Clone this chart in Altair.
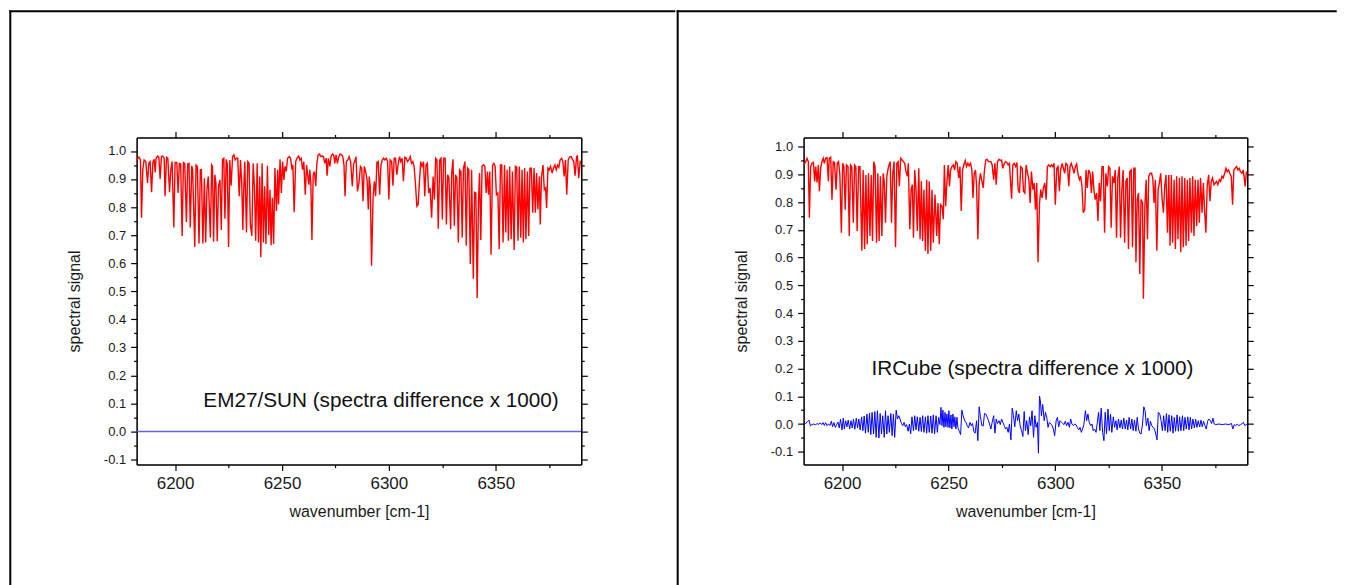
import altair as alt
import pandas as pd

FONT = "Liberation Sans"

# ---------------- EM27/SUN (left panel) ----------------
em_wn = [6181.2, 6182.0, 6183.1, 6183.8, 6184.3, 6184.9, 6185.5, 6186.3, 6187.1, 6187.7, 6188.3, 6189.0, 6189.6, 6190.2,
         6190.7, 6191.1, 6191.8, 6192.4, 6193.0, 6193.6, 6194.2, 6194.9, 6195.3, 6196.0, 6196.6, 6197.4, 6198.0, 6198.6,
         6199.4, 6200.0, 6200.8, 6201.4, 6202.0, 6202.6, 6203.3, 6203.9, 6204.5, 6205.3, 6205.9, 6206.5, 6207.1, 6207.8,
         6208.2, 6209.2, 6209.8, 6210.4, 6211.2, 6211.8, 6212.3, 6213.0, 6213.7, 6214.3, 6214.9, 6215.5, 6216.5, 6217.1,
         6217.5, 6218.0, 6218.6, 6219.1, 6219.7, 6220.3, 6221.0, 6221.6, 6222.2, 6222.8, 6223.3, 6223.9, 6224.4, 6225.0,
         6225.6, 6226.2, 6226.9, 6227.5, 6228.1, 6228.7, 6229.3, 6230.0, 6230.6, 6231.2, 6231.7, 6232.1, 6232.6, 6233.4,
         6234.0, 6234.6, 6235.2, 6235.9, 6236.5, 6237.1, 6237.7, 6238.4, 6239.0, 6239.6, 6240.1, 6240.7, 6241.3, 6241.9,
         6242.5, 6243.2, 6243.8, 6244.4, 6244.9, 6245.5, 6246.1, 6246.7, 6247.4, 6248.0, 6248.4, 6249.1, 6249.7, 6250.3,
         6250.9, 6251.4, 6252.0, 6252.6, 6253.4, 6254.0, 6254.7, 6255.1, 6255.7, 6256.4, 6257.0, 6257.8, 6258.4, 6259.0,
         6259.6, 6260.2, 6260.9, 6261.5, 6262.0, 6262.6, 6263.0, 6263.5, 6264.0, 6264.6, 6265.2, 6265.8, 6266.3, 6266.9,
         6267.5, 6268.2, 6268.8, 6269.4, 6270.0, 6270.7, 6271.1, 6271.7, 6272.4, 6273.0, 6273.6, 6274.2, 6274.7, 6275.3,
         6275.9, 6276.6, 6277.2, 6277.8, 6278.4, 6279.0, 6279.5, 6280.1, 6280.8, 6281.4, 6282.1, 6282.9, 6283.5, 6284.0,
         6284.6, 6285.3, 6286.0,
         6286.7, 6287.3, 6287.9, 6288.5, 6289.1, 6289.8, 6290.4, 6290.8, 6291.3, 6291.9, 6292.6, 6293.2, 6293.8, 6294.4,
         6295.0, 6295.7, 6296.3, 6296.9, 6297.5, 6298.1, 6298.8, 6299.4, 6300.0, 6300.6, 6301.3, 6301.9, 6302.5, 6303.1,
         6303.7, 6304.4, 6305.0, 6305.6, 6306.2, 6306.8, 6307.5, 6308.1, 6308.7, 6309.3, 6310.0, 6310.6, 6311.2, 6311.8,
         6312.4, 6313.1, 6313.7, 6314.3, 6314.9, 6315.5, 6316.2, 6316.8, 6317.4, 6318.0, 6318.6, 6319.3, 6320.0, 6320.7,
         6321.3, 6321.9, 6322.5, 6323.1, 6323.8, 6324.4, 6325.0, 6325.6, 6326.3, 6326.9, 6327.5, 6328.1, 6328.9, 6329.4,
         6330.0, 6330.6, 6331.2, 6331.8, 6332.5, 6333.1, 6333.7, 6334.3, 6334.9, 6335.6, 6336.2, 6336.8, 6337.4, 6338.1,
         6338.7, 6339.5, 6340.1, 6340.7, 6341.3, 6341.9, 6342.4, 6343.0, 6343.6, 6344.3, 6344.9, 6345.5, 6346.1, 6346.6,
         6347.2, 6347.8, 6348.5, 6349.1, 6349.7, 6350.3, 6351.0, 6351.6, 6352.2, 6352.8, 6353.4, 6354.1, 6354.7, 6355.3,
         6355.9, 6356.5, 6357.2, 6357.8, 6358.6, 6359.2, 6359.8, 6360.4, 6361.0, 6361.7, 6362.3, 6362.9, 6363.5, 6364.1,
         6364.8, 6365.4, 6366.0, 6366.6, 6367.3, 6367.9, 6368.5, 6369.1, 6369.7, 6370.4, 6370.8, 6371.4, 6372.1, 6372.7,
         6373.3, 6373.8, 6374.4, 6375.0, 6375.6, 6376.4, 6377.0, 6377.7, 6378.3, 6378.9, 6379.5, 6380.1, 6380.8, 6381.4,
         6382.0, 6382.6, 6383.2, 6383.9, 6384.5, 6385.3, 6385.9, 6386.5, 6387.1, 6387.8, 6388.2, 6388.8, 6389.5, 6390.1]
em_sig = [0.956, 0.968, 0.978, 0.968, 0.762, 0.933, 0.968, 0.962, 0.886, 0.956, 0.962, 0.853, 0.959, 0.970,
          0.923, 0.974, 0.982, 0.978, 0.900, 0.980, 0.982, 0.974, 0.839, 0.978, 0.974, 0.853, 0.933, 0.962,
          0.727, 0.959, 0.959, 0.850, 0.956, 0.954, 0.697, 0.959, 0.956, 0.747, 0.954, 0.956, 0.727, 0.947,
          0.933, 0.658, 0.950, 0.945, 0.670, 0.933, 0.933, 0.670, 0.903, 0.674, 0.862, 0.909, 0.691, 0.950,
          0.945, 0.676, 0.915, 0.886, 0.678, 0.874, 0.897, 0.718, 0.970, 0.974, 0.758, 0.970, 0.956, 0.658,
          0.968, 0.876, 0.980, 0.986, 0.968, 0.974, 0.974, 0.839, 0.968, 0.880, 0.718, 0.862, 0.962, 0.709,
          0.962, 0.956, 0.738, 0.697, 0.956, 0.874, 0.680, 0.956, 0.674, 0.909, 0.621, 0.956, 0.674, 0.874,
          0.668, 0.947, 0.700, 0.862, 0.664, 0.833, 0.668, 0.939, 0.786, 0.933, 0.809, 0.970, 0.850, 0.962,
          0.897, 0.945, 0.927, 0.974, 0.980, 0.974, 0.933, 0.950, 0.782, 0.962, 0.974, 0.982, 0.968, 0.974,
          0.933, 0.962, 0.844, 0.950, 0.915, 0.880, 0.933, 0.886, 0.683, 0.915, 0.927, 0.874, 0.956, 0.986,
          0.989, 0.980, 0.982, 0.980, 0.956, 0.974, 0.912, 0.974, 0.945, 0.982, 0.989, 0.986, 0.956, 0.986,
          0.956, 0.980, 0.989, 0.986, 0.982, 0.950, 0.839, 0.962, 0.968, 0.980, 0.962, 0.874, 0.954, 0.962,
          0.980, 0.856, 0.886,
          0.945, 0.939, 0.821, 0.945, 0.927, 0.897, 0.791, 0.909, 0.874, 0.591, 0.833, 0.892, 0.839, 0.959,
          0.962, 0.844, 0.950, 0.968, 0.974, 0.968, 0.974, 0.962, 0.827, 0.968, 0.962, 0.876, 0.974, 0.974,
          0.915, 0.956, 0.980, 0.962, 0.974, 0.892, 0.978, 0.974, 0.962, 0.968, 0.980, 0.956, 0.962, 0.945,
          0.886, 0.803, 0.809, 0.892, 0.962, 0.945, 0.962, 0.839, 0.950, 0.956, 0.850, 0.868, 0.762, 0.909,
          0.827, 0.974, 0.968, 0.723, 0.968, 0.974, 0.756, 0.974, 0.974, 0.738, 0.915, 0.903, 0.721, 0.921,
          0.970, 0.733, 0.915, 0.903, 0.674, 0.933, 0.927, 0.691, 0.939, 0.962, 0.662, 0.939, 0.933, 0.597,
          0.933, 0.544, 0.853, 0.850, 0.476, 0.815, 0.921, 0.683, 0.947, 0.950, 0.945, 0.850, 0.927, 0.844,
          0.927, 0.630, 0.950, 0.956, 0.945, 0.844, 0.850, 0.650, 0.950, 0.950, 0.674, 0.950, 0.709, 0.933,
          0.680, 0.945, 0.685, 0.927, 0.647, 0.945, 0.942, 0.680, 0.945, 0.691, 0.933, 0.674, 0.939, 0.685,
          0.927, 0.697, 0.939, 0.939, 0.780, 0.939, 0.780, 0.921, 0.791, 0.909, 0.738, 0.909, 0.950, 0.862,
          0.868, 0.797, 0.939, 0.933, 0.945, 0.921, 0.939, 0.950, 0.933, 0.950, 0.942, 0.968, 0.974, 0.962,
          0.909, 0.968, 0.844, 0.968, 0.978, 0.980, 0.970, 0.962, 0.912, 0.980, 0.982, 0.903, 0.962, 0.956]
em_diff_wn = [6182.0, 6225.0, 6275.0, 6325.0, 6390.0]
em_diff = [0.0, 0.0, 0.0, 0.0, 0.0]

# ---------------- IRCube (right panel) ----------------
ir_wn = [6182.1, 6182.8, 6183.6, 6184.2, 6184.7, 6185.3, 6185.9, 6186.6, 6187.2, 6187.7, 6188.3, 6188.9, 6189.4, 6190.0,
         6190.6, 6191.2, 6191.7, 6192.3, 6193.0, 6193.6, 6194.0, 6194.7, 6195.3, 6195.9, 6196.5, 6197.2, 6197.8, 6198.4,
         6199.0, 6199.7, 6200.3, 6200.9, 6201.5, 6202.1, 6202.8, 6203.4, 6204.0, 6204.6, 6205.3, 6205.9, 6206.5, 6207.1,
         6207.8, 6208.4, 6209.3, 6209.9, 6210.6, 6211.2, 6211.8, 6212.4, 6213.1, 6213.7, 6214.3, 6214.9, 6215.5, 6216.2,
         6216.8, 6217.4, 6218.0, 6218.7, 6219.3, 6219.8, 6220.4, 6221.0, 6221.8, 6222.6, 6223.2, 6223.8, 6224.4, 6225.1,
         6225.7, 6226.3, 6226.9, 6227.5, 6228.2, 6228.8, 6229.4, 6230.0, 6230.7, 6231.1, 6231.8, 6232.4, 6233.0, 6233.5,
         6234.1, 6234.7, 6235.3, 6236.0, 6236.6, 6237.2, 6237.8, 6238.4, 6239.1, 6239.7, 6240.3, 6240.9, 6241.6, 6242.2,
         6242.8, 6243.6, 6244.4, 6245.0, 6245.6, 6246.2, 6246.9, 6247.5, 6248.0, 6248.6, 6249.2, 6249.8, 6250.4, 6250.9,
         6251.5, 6252.2, 6252.8, 6253.4, 6254.0, 6254.7, 6255.3, 6255.9, 6256.5, 6257.1, 6257.8, 6258.4, 6259.0, 6259.6,
         6260.3, 6260.9, 6261.4, 6262.0, 6262.6, 6263.1, 6263.7, 6264.3, 6264.9, 6265.6, 6266.2, 6266.8, 6267.4, 6268.0,
         6268.7,
         6269.8, 6270.4, 6271.1, 6271.7, 6272.3, 6272.9, 6273.6, 6274.2, 6274.8, 6275.4, 6276.1, 6276.7, 6277.3, 6277.9,
         6278.5, 6279.5, 6280.1, 6280.7, 6281.4, 6282.0, 6282.6, 6283.2, 6283.8, 6284.5, 6285.1, 6285.7, 6286.3, 6287.0,
         6287.6, 6288.2, 6288.8, 6289.5, 6290.1, 6290.7, 6291.3, 6291.9, 6292.6, 6293.2, 6293.8, 6294.4, 6295.1, 6295.7,
         6296.3, 6296.9, 6297.6, 6298.2, 6298.8, 6299.4, 6300.0, 6300.7, 6301.3, 6301.9, 6302.5, 6303.2, 6303.8, 6304.4,
         6305.0, 6305.7, 6306.3, 6306.9, 6307.5, 6308.2, 6308.8, 6309.4, 6310.0, 6310.6, 6311.3, 6311.9, 6312.5, 6313.1,
         6313.8, 6314.4, 6315.0, 6315.6, 6316.3, 6316.9, 6317.5, 6318.1, 6318.7, 6319.4, 6320.0, 6320.6, 6321.2, 6321.9,
         6322.5, 6323.1, 6323.7, 6324.4, 6325.0, 6325.6, 6326.2, 6326.8, 6327.5, 6328.1, 6328.7, 6329.3, 6330.0, 6330.6,
         6331.2, 6331.8, 6332.5, 6333.1, 6333.7, 6334.3, 6334.9, 6335.6, 6336.2, 6336.8, 6337.4, 6337.8, 6338.4, 6339.0,
         6339.6, 6340.2, 6340.9, 6341.3, 6342.0, 6342.6, 6343.2, 6343.8, 6344.5, 6345.1, 6345.7, 6346.3, 6346.9, 6347.6,
         6348.2, 6348.8, 6349.4, 6350.1, 6350.7, 6351.3, 6351.9, 6352.6, 6353.2, 6353.8, 6354.4, 6355.0, 6355.7, 6356.3,
         6356.9, 6357.5, 6358.2, 6358.8, 6359.4, 6360.0, 6360.7, 6361.3, 6361.9, 6362.5, 6363.1, 6363.8, 6364.4, 6365.0,
         6365.6, 6366.3, 6366.9, 6367.5, 6368.1, 6368.8, 6369.4, 6370.0, 6370.6, 6371.2, 6371.9, 6372.5, 6373.1, 6373.7,
         6374.4, 6375.0, 6375.6, 6376.2, 6376.9, 6377.5, 6378.1, 6378.7, 6379.4, 6380.0, 6380.6, 6381.2, 6381.8, 6382.5,
         6383.1, 6383.7, 6384.3, 6385.0, 6385.6, 6386.2, 6386.8, 6387.5, 6388.1, 6388.5, 6389.0, 6389.6, 6389.9]
ir_sig = [0.934, 0.943, 0.958, 0.946, 0.744, 0.928, 0.940, 0.943, 0.875, 0.928, 0.871, 0.934, 0.839, 0.922,
          0.946, 0.958, 0.940, 0.958, 0.960, 0.875, 0.958, 0.962, 0.809, 0.946, 0.943, 0.845, 0.940, 0.946,
          0.898, 0.690, 0.940, 0.928, 0.773, 0.934, 0.928, 0.678, 0.934, 0.928, 0.726, 0.934, 0.928, 0.696,
          0.928, 0.928, 0.625, 0.916, 0.631, 0.898, 0.648, 0.904, 0.678, 0.898, 0.660, 0.946, 0.928, 0.654,
          0.904, 0.660, 0.893, 0.678, 0.904, 0.875, 0.726, 0.893, 0.928, 0.946, 0.726, 0.904, 0.946, 0.637,
          0.940, 0.946, 0.857, 0.958, 0.952, 0.946, 0.940, 0.910, 0.893, 0.940, 0.702, 0.845, 0.863, 0.672,
          0.916, 0.845, 0.696, 0.922, 0.666, 0.875, 0.660, 0.845, 0.625, 0.881, 0.613, 0.875, 0.625, 0.845,
          0.654, 0.827, 0.678, 0.797, 0.648, 0.791, 0.785, 0.738, 0.934, 0.785, 0.875, 0.934, 0.857, 0.916,
          0.928, 0.934, 0.916, 0.946, 0.940, 0.887, 0.928, 0.768, 0.916, 0.934, 0.950, 0.928, 0.940, 0.931,
          0.940, 0.916, 0.815, 0.904, 0.916, 0.857, 0.666, 0.869, 0.904, 0.875, 0.851, 0.916, 0.952, 0.954,
          0.946,
          0.946, 0.934, 0.881, 0.940, 0.863, 0.946, 0.954, 0.950, 0.952, 0.922, 0.940, 0.946, 0.943, 0.934,
          0.940, 0.812, 0.934, 0.940, 0.928, 0.943, 0.845, 0.833, 0.928, 0.922, 0.839, 0.833, 0.934, 0.904,
          0.881, 0.797, 0.910, 0.845, 0.869, 0.773, 0.869, 0.583, 0.797, 0.845, 0.815, 0.851, 0.869, 0.809,
          0.928, 0.934, 0.928, 0.934, 0.928, 0.940, 0.791, 0.922, 0.928, 0.839, 0.916, 0.940, 0.922, 0.904,
          0.940, 0.934, 0.857, 0.928, 0.940, 0.922, 0.904, 0.928, 0.938, 0.904, 0.881, 0.893, 0.857, 0.762,
          0.773, 0.916, 0.851, 0.916, 0.904, 0.833, 0.910, 0.845, 0.809, 0.833, 0.732, 0.869, 0.803, 0.928,
          0.928, 0.690, 0.904, 0.857, 0.928, 0.922, 0.708, 0.893, 0.869, 0.916, 0.672, 0.887, 0.928, 0.672,
          0.845, 0.916, 0.654, 0.875, 0.887, 0.631, 0.910, 0.916, 0.637, 0.922, 0.922, 0.583, 0.809, 0.833,
          0.541, 0.809, 0.797, 0.452, 0.785, 0.881, 0.666, 0.893, 0.904, 0.904, 0.887, 0.797, 0.881, 0.625,
          0.845, 0.869, 0.904, 0.809, 0.762, 0.857, 0.898, 0.690, 0.898, 0.643, 0.898, 0.654, 0.881, 0.631,
          0.893, 0.666, 0.887, 0.619, 0.893, 0.637, 0.887, 0.643, 0.881, 0.660, 0.887, 0.690, 0.893, 0.678,
          0.881, 0.714, 0.881, 0.726, 0.887, 0.762, 0.869, 0.768, 0.690, 0.857, 0.898, 0.803, 0.875, 0.887,
          0.863, 0.869, 0.875, 0.863, 0.881, 0.875, 0.893, 0.887, 0.904, 0.922, 0.910, 0.916, 0.904, 0.893,
          0.791, 0.916, 0.922, 0.928, 0.916, 0.922, 0.910, 0.904, 0.916, 0.893, 0.857, 0.910, 0.904]
ir_diff_wn = [6182.0, 6183.0, 6183.9, 6184.5, 6185.2, 6185.9, 6186.7, 6187.5, 6188.3, 6189.1, 6189.8, 6190.5, 6191.1,
              6191.7, 6192.3, 6193.0, 6193.7, 6194.4, 6195.0, 6195.6, 6196.2, 6196.9, 6197.5, 6198.1, 6198.7, 6199.3,
              6200.0, 6200.6, 6201.1, 6201.7, 6202.3, 6202.9, 6203.6, 6204.2, 6204.8, 6205.4, 6206.0, 6206.7, 6207.3,
              6207.9, 6208.5, 6209.2, 6209.8, 6210.4, 6211.0, 6211.7, 6212.3, 6212.9, 6213.5, 6214.1, 6214.8, 6215.4,
              6216.0, 6216.6, 6217.3, 6217.9, 6218.5, 6219.1, 6219.8, 6220.4, 6221.0, 6221.6, 6222.2, 6222.9, 6223.5,
              6224.1, 6224.7, 6225.4, 6226.0, 6226.6, 6227.2, 6227.9, 6228.5, 6229.1, 6229.7, 6230.3, 6231.0, 6231.6,
              6232.2, 6232.8, 6233.5, 6234.1, 6234.7, 6235.3, 6236.0, 6236.6, 6237.2, 6237.8, 6238.4, 6239.1, 6239.7,
              6240.3, 6240.9, 6241.6, 6242.2, 6242.8, 6243.4, 6244.1, 6244.7, 6245.3, 6245.9, 6246.4, 6246.9, 6247.3,
              6247.8, 6248.3, 6248.7, 6249.2, 6249.7, 6250.1, 6250.6, 6251.1, 6251.5, 6252.0, 6252.5, 6252.9, 6253.4,
              6253.9, 6254.3, 6255.0, 6255.6, 6256.2, 6256.8, 6257.5, 6258.1, 6258.7, 6259.3, 6260.0, 6260.6, 6261.2,
              6261.8, 6262.4, 6263.1, 6263.7, 6264.3, 6264.9, 6265.6, 6266.2, 6266.8, 6267.4, 6268.1, 6268.7,
              6269.8, 6270.4, 6271.1, 6271.7, 6272.3, 6272.9, 6273.6, 6274.2, 6274.8, 6275.4, 6276.1, 6276.7, 6277.3,
              6277.9, 6278.5, 6279.2, 6279.8, 6280.4, 6281.0, 6281.7, 6282.3, 6282.9, 6283.5, 6284.2, 6284.8, 6285.4,
              6286.0, 6286.6, 6287.3, 6287.9, 6288.5, 6289.1, 6289.8, 6290.4, 6291.0, 6291.6, 6292.1, 6292.6, 6293.0,
              6293.5, 6294.1, 6294.8, 6295.4, 6296.0, 6296.6, 6297.2, 6297.9, 6298.5, 6299.1, 6299.7, 6300.4, 6301.0,
              6301.6, 6302.2, 6302.9, 6303.5, 6304.1, 6304.7, 6305.3, 6306.0, 6306.6, 6307.2, 6307.8, 6308.5, 6309.1,
              6309.7, 6310.3, 6311.0, 6311.6, 6312.2, 6312.8, 6313.4, 6314.1, 6314.7, 6315.3, 6315.9, 6316.6, 6317.2,
              6317.8, 6318.4, 6319.1, 6319.7, 6320.3, 6320.9, 6321.5, 6322.2, 6322.8, 6323.4, 6324.0, 6324.7, 6325.3,
              6325.9, 6326.5, 6327.2, 6327.8, 6328.4, 6329.0, 6329.6, 6330.3, 6330.9, 6331.5, 6332.1, 6332.8, 6333.4,
              6334.0, 6334.6, 6335.3, 6335.9, 6336.5, 6337.1, 6337.8, 6338.4, 6339.0, 6339.6, 6340.2, 6340.9, 6341.5,
              6342.1, 6342.7, 6343.4, 6344.0, 6344.6, 6345.2, 6345.9, 6346.5, 6347.1, 6347.7, 6348.3, 6349.0, 6349.6,
              6350.2, 6350.8, 6351.5, 6352.1, 6352.7, 6353.3, 6353.9, 6354.6, 6355.2, 6355.8, 6356.4, 6357.1, 6357.7,
              6358.3, 6358.9, 6359.6, 6360.2, 6360.8, 6361.4, 6362.1, 6362.7, 6363.3, 6363.9, 6364.5, 6365.2, 6365.8,
              6366.4, 6367.0, 6367.7, 6368.3, 6368.9, 6369.5, 6370.2, 6370.8, 6371.4, 6372.0, 6372.7, 6373.3, 6373.9,
              6374.5, 6375.1, 6376.7, 6378.3, 6379.8, 6381.4, 6382.6, 6383.2, 6383.9, 6384.5, 6385.3, 6386.0, 6386.8,
              6387.6, 6388.2, 6388.9, 6389.5, 6389.9]
ir_diff = [-0.002, 0.002, 0.010, 0.014, -0.007, -0.002, 0.000, -0.002, 0.001, -0.001, 0.004, -0.002, 0.005,
           -0.005, 0.005, -0.006, 0.000, -0.005, 0.010, -0.010, 0.005, -0.012, -0.002, 0.007, -0.014, 0.017,
           -0.021, 0.021, -0.018, 0.012, -0.010, 0.014, -0.018, 0.012, -0.014, 0.017, -0.019, 0.021, -0.014,
           0.018, -0.021, 0.026, -0.024, 0.029, -0.033, 0.036, -0.030, 0.040, -0.038, 0.042, -0.036, 0.045,
           -0.048, 0.048, -0.050, 0.038, -0.036, 0.030, -0.048, 0.048, -0.036, 0.030, -0.030, 0.038, -0.042,
           0.036, -0.048, 0.050, 0.018, 0.030, 0.018, 0.002, -0.006, 0.006, -0.010, -0.002, -0.026, 0.000,
           -0.036, 0.026, -0.024, 0.030, -0.021, 0.026, -0.026, 0.024, -0.027, 0.030, -0.030, 0.026, -0.033,
           0.030, -0.030, 0.029, -0.033, 0.033, -0.036, 0.030, -0.030, 0.024, -0.002, 0.060, -0.006, 0.050,
           -0.012, 0.042, -0.010, 0.036, -0.012, 0.048, -0.014, 0.033, -0.018, 0.036, -0.010, 0.026, -0.018,
           0.024, -0.012, -0.026, -0.038, 0.050, 0.030, 0.012, 0.006, -0.006, -0.014, 0.006, -0.006, 0.002,
           -0.026, -0.033, 0.012, -0.060, 0.062, 0.026, -0.006, -0.007, 0.038, 0.036, 0.024, 0.012,
           -0.018, 0.006, 0.030, -0.033, 0.018, 0.002, 0.012, -0.002, 0.018, 0.006, -0.006, -0.018, -0.012,
           -0.030, 0.000, -0.057, 0.057, 0.030, -0.010, 0.048, 0.012, 0.036, -0.006, -0.024, -0.045, 0.045,
           -0.024, 0.012, -0.038, 0.026, -0.006, 0.048, -0.048, 0.030, -0.012, 0.006, -0.105, 0.101, 0.083,
           0.030, 0.071, 0.012, 0.042, 0.024, -0.012, 0.006, 0.000, -0.006, -0.018, -0.042, 0.012, 0.024,
           -0.010, 0.012, 0.006, 0.002, -0.002, 0.010, -0.006, 0.006, -0.012, 0.018, 0.000, -0.006, 0.000,
           -0.002, -0.012, -0.021, -0.012, -0.030, -0.018, -0.002, 0.048, 0.012, 0.036, 0.006, -0.006, 0.000,
           -0.024, -0.018, -0.030, 0.006, 0.042, -0.024, 0.057, -0.030, -0.060, 0.042, -0.036, 0.054, -0.024,
           0.036, -0.030, 0.026, -0.012, 0.012, -0.021, 0.018, -0.014, 0.014, -0.018, 0.021, -0.018, 0.014,
           -0.021, 0.024, -0.018, 0.018, -0.024, 0.014, -0.026, 0.024, -0.018, -0.033, -0.036, 0.000, 0.062,
           0.048, -0.006, 0.021, -0.024, 0.010, -0.006, -0.012, -0.018, -0.036, -0.057, 0.042, 0.036, 0.012,
           -0.024, 0.030, -0.024, 0.038, -0.030, 0.033, -0.026, 0.030, -0.033, 0.024, -0.026, 0.033, -0.026,
           0.026, -0.024, 0.030, -0.024, 0.024, -0.018, 0.026, -0.021, 0.024, -0.018, 0.018, -0.014, 0.017,
           -0.012, 0.012, -0.010, 0.014, -0.010, 0.010, -0.006, -0.018, 0.010, 0.018, 0.012, 0.002, 0.021,
           0.000, -0.002, 0.000, -0.002, 0.000, -0.002, 0.002, -0.018, -0.002, -0.006, 0.000, -0.006, -0.002,
           0.002, 0.006, -0.006, -0.002, 0.000]

# ---------------- axes / labels ----------------
x_ticks = [6200, 6225, 6250, 6275, 6300, 6325, 6350, 6375]
y_ticks = [-0.1, -0.05, 0.0, 0.05, 0.1, 0.15, 0.2, 0.25, 0.3, 0.35, 0.4, 0.45, 0.5, 0.55, 0.6,
           0.65, 0.7, 0.75, 0.8, 0.85, 0.9, 0.95, 1.0]
x_domain = [6182, 6390]
em_y_domain = [-0.118, 1.048]
ir_y_domain = [-0.146, 1.033]
x_title = "wavenumber [cm-1]"
y_title = "spectral signal"
em_label = "EM27/SUN (spectra difference x 1000)"
ir_label = "IRCube (spectra difference x 1000)"
em_label_pos = (6213.2, 0.088)
ir_label_pos = (6213.8, 0.177)

X_MINOR = "datum.value % 50 !== 0"
Y_MINOR = "round(datum.value * 20) % 2 !== 0"
AX = dict(grid=False, domainColor="black", domainWidth=1.5, tickColor="black", tickWidth=1.2,
          labelFont=FONT, titleFont=FONT, labelColor="#1a1a1a", titleColor="#1a1a1a",
          titleFontWeight="normal", labelOverlap=False, labelFlush=False)


def xtick_size():
    return {"condition": {"test": X_MINOR, "value": 3}, "value": 6}


def ytick_size():
    return {"condition": {"test": Y_MINOR, "value": 3}, "value": 6}


ax_bottom = alt.Axis(orient="bottom", values=x_ticks, tickSize=xtick_size(),
                     labelExpr="datum.value % 50 === 0 ? format(datum.value, 'd') : ''",
                     labelFontSize=17, labelPadding=5, title=x_title, titleFontSize=16,
                     titlePadding=12, **AX)
ax_top = alt.Axis(orient="top", values=x_ticks, tickSize=xtick_size(), labels=False,
                  title=None, **AX)
ax_left = alt.Axis(orient="left", values=y_ticks, tickSize=ytick_size(),
                   labelExpr="round(datum.value * 20) % 2 === 0 ? replace(format(datum.value, '.1f'), '\u2212', '-') : ''",
                   labelFontSize=13, labelPadding=5, title=y_title, titleFontSize=16,
                   titlePadding=21, **AX)
ax_right = alt.Axis(orient="right", values=y_ticks, tickSize=ytick_size(), labels=False,
                    title=None, **AX)


def panel(wn, sig, dwn, dsig, ydom, width, label, lpos, blue_color, blue_width, frame):
    xs = alt.Scale(domain=x_domain, nice=False, zero=False)
    ys = alt.Scale(domain=ydom, nice=False, zero=False)
    red = alt.Chart(pd.DataFrame({"wn": wn, "sig": sig})).mark_line(
        color="#ff0000", strokeWidth=1.4, clip=True).encode(
        x=alt.X("wn:Q", scale=xs, axis=ax_bottom),
        y=alt.Y("sig:Q", scale=ys, axis=ax_left))
    blue = alt.Chart(pd.DataFrame({"wn": dwn, "sig": dsig})).mark_line(
        color=blue_color, strokeWidth=blue_width, clip=True).encode(
        x=alt.X("wn:Q", scale=xs, axis=ax_top),
        y=alt.Y("sig:Q", scale=ys, axis=ax_right))
    txt = alt.Chart(pd.DataFrame({"wn": [lpos[0]], "sig": [lpos[1]], "t": [label]})).mark_text(
        align="left", baseline="alphabetic", font=FONT, fontSize=20.8, color="#111111").encode(
        x=alt.X("wn:Q", scale=xs, axis=None),
        y=alt.Y("sig:Q", scale=ys, axis=None),
        text="t:N")
    layers = [red, blue, txt] + frame
    return alt.layer(*layers).resolve_axis(x="independent", y="independent").properties(
        width=width, height=328)


one = pd.DataFrame({"k": [0]})


def frame_bar(x1, x2, y1, y2):
    # filled black bar used for the table-like frame around each panel
    return alt.Chart(one).mark_rect(color="black").encode(
        x=alt.value(x1), x2=alt.value(x2), y=alt.value(y1), y2=alt.value(y2))


# left panel: plot origin at page (135.7, 135.7)
left_frame = [frame_bar(-127.7, -125.7, -127.7, 465), frame_bar(-127.7, 540.3, -127.7, -125.7)]
# right panel: plot origin at page (803.3, 135.7); keep total width inside the 1346px window
right_frame = [frame_bar(-127.3, -125.3, -127.7, 465), frame_bar(-127.3, 534.7, -127.7, -125.7)]

left = panel(em_wn, em_sig, em_diff_wn, em_diff, em_y_domain, 446, em_label, em_label_pos,
             "#6060ff", 1.5, left_frame)
right = panel(ir_wn, ir_sig, ir_diff_wn, ir_diff, ir_y_domain, 445, ir_label, ir_label_pos,
              "#0000ff", 1.0, right_frame)

chart = alt.hconcat(left, right, spacing=0, padding=0).configure_view(stroke=None).configure(
    background="white")

chart.save("out.html", embed_options={"renderer": "svg", "actions": False})
